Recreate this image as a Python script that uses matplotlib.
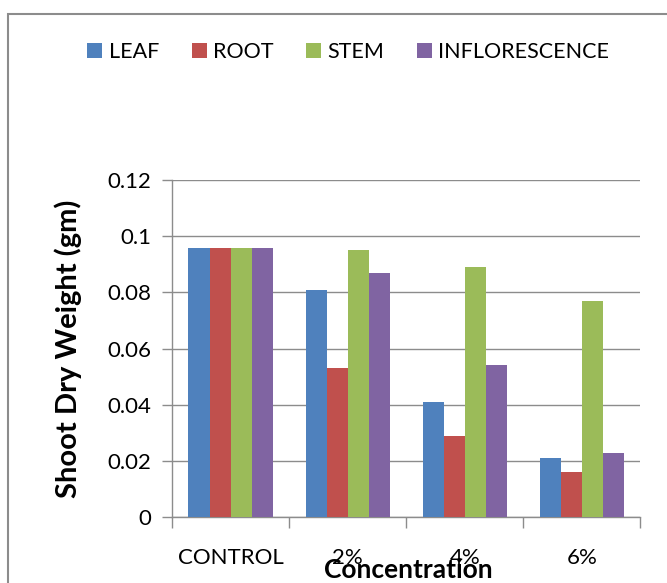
import matplotlib.pyplot as plt
import numpy as np
from matplotlib.patches import Rectangle

plt.rcParams['font.family'] = ['Lato', 'DejaVu Sans']

categories = ['CONTROL', '2%', '4%', '6%']
leaf = [0.096, 0.081, 0.041, 0.021]
root = [0.096, 0.053, 0.029, 0.016]
stem = [0.096, 0.095, 0.089, 0.077]
inflorescence = [0.096, 0.087, 0.054, 0.023]

series = [('LEAF', leaf, '#4F81BD'), ('ROOT', root, '#C0504D'),
          ('STEM', stem, '#9BBB59'), ('INFLORESCENCE', inflorescence, '#8064A2')]

fig = plt.figure(figsize=(6.67, 5.83), dpi=100)
ax = fig.add_axes([0.258, 0.113, 0.702, 0.578])

# outer chart border (cut off on right and bottom)
fig.patches.append(Rectangle((8/667, -0.05), 1.2, 1 - 14/583 + 0.05, transform=fig.transFigure,
                             fill=False, edgecolor='#8c8c8c', linewidth=1.5))

x = np.arange(len(categories))
w = 0.18
for i, (name, vals, col) in enumerate(series):
    ax.bar(x + (i - 1.5) * w, vals, w, color=col, label=name, zorder=3)

ax.set_xlim(-0.5, 3.5)
ax.set_ylim(0, 0.12)
ax.set_yticks(np.arange(0, 0.121, 0.02))
ax.set_yticklabels(['0', '0.02', '0.04', '0.06', '0.08', '0.1', '0.12'])
ax.yaxis.grid(True, color='#8c8c8c', linewidth=1)
ax.set_axisbelow(True)
ax.set_xticks(x)
ax.set_xticklabels(categories)
ax.set_xticks(np.arange(-0.5, 3.6, 1), minor=True)
ax.tick_params(axis='x', which='major', length=0, pad=22, labelsize=16)
ax.tick_params(axis='x', which='minor', length=8, color='#8c8c8c', width=1)
ax.tick_params(axis='y', length=7, color='#8c8c8c', width=1, labelsize=16, pad=8)
for s in ['top', 'right']:
    ax.spines[s].set_visible(False)
for s in ['left', 'bottom']:
    ax.spines[s].set_color('#8c8c8c')
    ax.spines[s].set_linewidth(1)

ax.set_ylabel('Shoot Dry Weight (gm)', fontsize=21, fontweight='bold', labelpad=18)
fig.text(0.612, 0.022, 'Concentration', fontsize=19, fontweight='bold', ha='center', va='center')

fig.legend(loc='center', bbox_to_anchor=(0.522, 0.911), ncol=4, frameon=False,
           fontsize=15.5, handlelength=0.7, handleheight=0.7, handletextpad=0.3,
           columnspacing=1.5)

plt.savefig('out.png', dpi=100)
